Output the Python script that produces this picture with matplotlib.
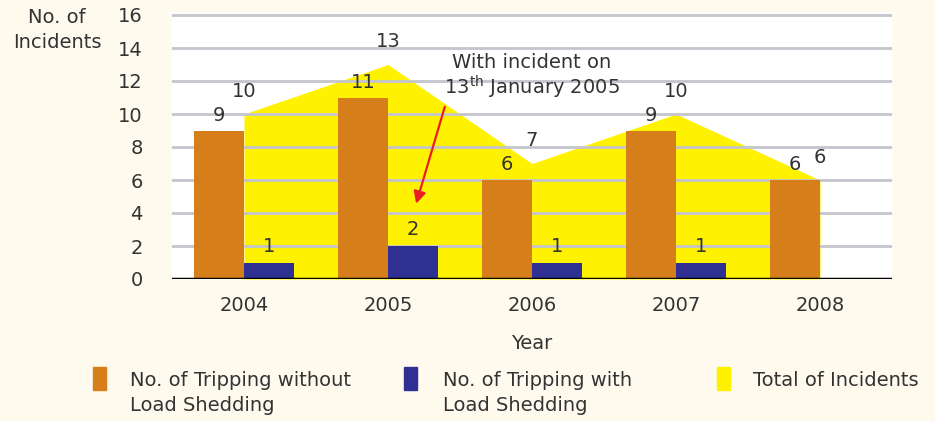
import numpy as np
import matplotlib.pyplot as plt
from matplotlib.patches import Rectangle

years = ['2004', '2005', '2006', '2007', '2008']
without_ls = [9, 11, 6, 9, 6]
with_ls = [1, 2, 1, 1, 0]
total = [10, 13, 7, 10, 6]

plt.rcParams['font.family'] = ['DejaVu Sans']
plt.rcParams['mathtext.fontset'] = 'dejavusans'

orange = '#D67F1A'
blue = '#2E3192'
yellow = '#FFF200'
txt = '#333333'
bg = '#FEFBEE'
fs = 14

fig = plt.figure(figsize=(9.35, 4.21), dpi=100, facecolor=bg)
ax = fig.add_axes([172/935, 1-279/421, 720/935, 16.2*16.5/421])
ax.set_facecolor('white')

x = np.arange(len(years))
w = 0.35
ax.fill_between(x, 0, total, color=yellow, lw=0, zorder=1)
for g in range(2, 17, 2):
    ax.axhline(g, color='#C4C4CC', lw=2, zorder=1.5)
ax.bar(x - w/2, without_ls, w, color=orange, zorder=2)
ax.bar(x + w/2, with_ls, w, color=blue, zorder=2)
ax.axhline(0, color='black', lw=2.5, zorder=3)

for i in range(len(years)):
    ax.text(x[i] - w/2, without_ls[i] + 0.35, str(without_ls[i]), ha='center', va='bottom', fontsize=fs, color=txt, zorder=4)
    if with_ls[i]:
        ax.text(x[i] + w/2, with_ls[i] + 0.4, str(with_ls[i]), ha='center', va='bottom', fontsize=fs, color=txt, zorder=4)
    ax.text(x[i], total[i] + 0.8, str(total[i]), ha='center', va='bottom', fontsize=fs, color=txt, zorder=4)

ax.annotate('', xy=(x[1] + 0.19, 4.4), xytext=(x[1] + 0.4, 10.6),
            arrowprops=dict(arrowstyle='-|>', color='#ED1C24', lw=1.6, mutation_scale=18), zorder=5)
ax.text(x[2], 13.15, 'With incident on', ha='center', va='center', fontsize=fs, color=txt, zorder=5)
ax.text(x[2], 11.6, '13$^{\\mathrm{th}}$ January 2005', ha='center', va='center', fontsize=fs, color=txt, zorder=5)

ax.set_xlim(-0.5, 4.5)
ax.set_ylim(0, 16.2)
ax.set_yticks(range(0, 17, 2))
ax.set_xticks(x)
ax.set_xticklabels(years)
ax.tick_params(length=0, labelsize=fs, labelcolor=txt)
ax.tick_params(axis='y', pad=21)
ax.tick_params(axis='x', pad=12)
for s in ax.spines.values():
    s.set_visible(False)
ax.set_xlabel('Year', fontsize=fs, color=txt, labelpad=14)

fig.text(57/935, 1-30/421, 'No. of\nIncidents', ha='center', va='center', fontsize=fs, color=txt, linespacing=1.4)

legend_items = [(orange, 'No. of Tripping without\nLoad Shedding', 93, 130),
                (blue, 'No. of Tripping with\nLoad Shedding', 404, 443),
                (yellow, 'Total of Incidents', 717, 753)]
for c, label, px, tx in legend_items:
    fig.patches.append(Rectangle((px/935, 1-390/421), 13/935, 23/421, transform=fig.transFigure, color=c))
    fig.text(tx/935, 1-371/421, label, ha='left', va='top', fontsize=fs, color=txt, linespacing=1.4)

fig.savefig('out.png', dpi=100, facecolor=bg)
